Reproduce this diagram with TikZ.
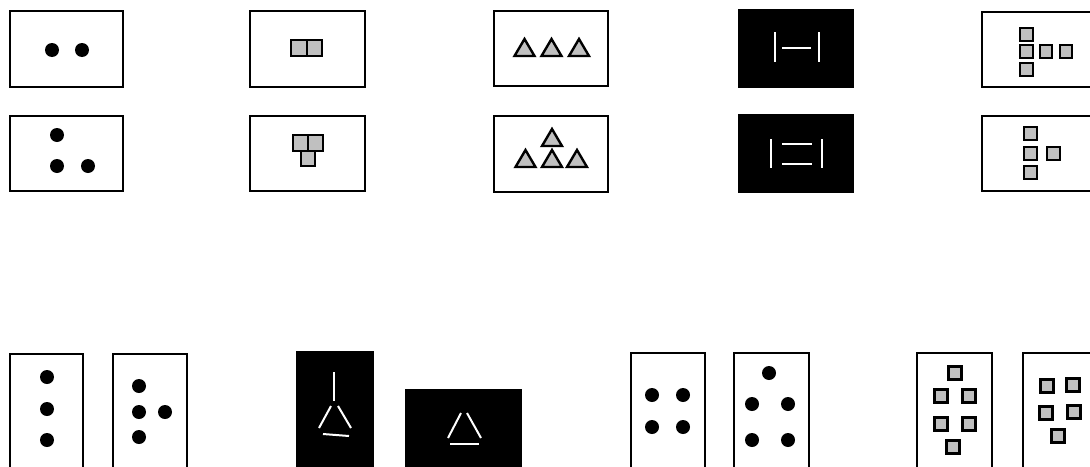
\documentclass[tikz,border=0pt]{standalone}
\usepackage{tikz}

\definecolor{cellgray}{RGB}{192,192,192}

\begin{document}
\begin{tikzpicture}[
      x=1pt, y=-1pt,
      panel/.style={draw=black, line width=2.5pt, fill=white},
      darkpanel/.style={fill=black},
      dot/.style={fill=black},
      cell/.style={draw=black, line width=2.4pt, fill=cellgray},
      tri/.style={draw=black, line width=2.4pt, fill=cellgray, line join=miter},
      stroke/.style={draw=white, line width=2pt}
    ]
    \clip (0,0) rectangle (1090,466);
    \fill[white] (0,0) rectangle (1090,466);

    % Top row: dots
    \draw[panel] (10,11) rectangle (123,87);
    \fill[dot] (52,50) circle[radius=7pt];
    \fill[dot] (82,50) circle[radius=7pt];
    \draw[panel] (10,116) rectangle (123,191);
    \fill[dot] (57,135) circle[radius=7pt];
    \fill[dot] (57,166) circle[radius=7pt];
    \fill[dot] (88,166) circle[radius=7pt];

    % Top row: joined squares
    \draw[panel] (250,11) rectangle (365,87);
    \draw[cell] (291,40) rectangle (307,56);
    \draw[cell] (307,40) rectangle (322,56);
    \draw[panel] (250,116) rectangle (365,191);
    \draw[cell] (301,151) rectangle (315,166);
    \draw[cell] (293,135) rectangle (308,151);
    \draw[cell] (308,135) rectangle (323,151);

    % Top row: triangles
    \draw[panel] (494,11) rectangle (608,86);
    \draw[tri] (514.5,56) -- (534.5,56) -- (524.5,39) -- cycle;
    \draw[tri] (541.5,56) -- (561.5,56) -- (551.5,39) -- cycle;
    \draw[tri] (569,56) -- (589,56) -- (579,39) -- cycle;
    \draw[panel] (494,116) rectangle (608,192);
    \draw[tri] (542,146) -- (562,146) -- (552,129) -- cycle;
    \draw[tri] (515.5,167) -- (535.5,167) -- (525.5,150) -- cycle;
    \draw[tri] (542,167) -- (562,167) -- (552,150) -- cycle;
    \draw[tri] (567,167) -- (587,167) -- (577,150) -- cycle;

    % Top row: sticks on black
    \fill[darkpanel] (738,9) rectangle (854,88);
    \draw[stroke] (775,32) -- (775,62);
    \draw[stroke] (782,48) -- (811,48);
    \draw[stroke] (819,32) -- (819,62);
    \fill[darkpanel] (738,114) rectangle (854,193);
    \draw[stroke] (771,139) -- (771,168);
    \draw[stroke] (782,144) -- (812,144);
    \draw[stroke] (782,164) -- (812,164);
    \draw[stroke] (822,139) -- (822,168);

    % Top row: separate squares
    \draw[panel] (982,12) rectangle (1100,87);
    \draw[cell] (1020,28) rectangle ++(13,13);
    \draw[cell] (1020,45) rectangle ++(13,13);
    \draw[cell] (1020,63) rectangle ++(13,13);
    \draw[cell] (1040,45) rectangle ++(12,13);
    \draw[cell] (1060,45) rectangle ++(12,13);
    \draw[panel] (982,116) rectangle (1100,191);
    \draw[cell] (1024,127) rectangle ++(13,13);
    \draw[cell] (1024,147) rectangle ++(13,13);
    \draw[cell] (1024,166) rectangle ++(13,13);
    \draw[cell] (1047,147) rectangle ++(13,13);

    % Bottom row: dots
    \draw[panel] (10,354) rectangle (83,480);
    \fill[dot] (47,377) circle[radius=7pt];
    \fill[dot] (47,409) circle[radius=7pt];
    \fill[dot] (47,440) circle[radius=7pt];
    \draw[panel] (113,354) rectangle (187,480);
    \fill[dot] (139,386) circle[radius=7pt];
    \fill[dot] (139,412) circle[radius=7pt];
    \fill[dot] (165,412) circle[radius=7pt];
    \fill[dot] (139,437) circle[radius=7pt];

    % Bottom row: sticks on black
    \fill[darkpanel] (296,351) rectangle (374,480);
    \draw[stroke] (334,372) -- (334,401);
    \draw[stroke] (331,406) -- (319,428);
    \draw[stroke] (338,406) -- (351,428);
    \draw[stroke] (323,434) -- (349,436);
    \fill[darkpanel] (405,389) rectangle (522,480);
    \draw[stroke] (461,413) -- (448,438);
    \draw[stroke] (467,413) -- (481,438);
    \draw[stroke] (450,444) -- (479,444);

    % Bottom row: more dots
    \draw[panel] (631,353) rectangle (705,480);
    \fill[dot] (652,395) circle[radius=7pt];
    \fill[dot] (683,395) circle[radius=7pt];
    \fill[dot] (652,427) circle[radius=7pt];
    \fill[dot] (683,427) circle[radius=7pt];
    \draw[panel] (734,353) rectangle (809,480);
    \fill[dot] (769,373) circle[radius=7pt];
    \fill[dot] (752,404) circle[radius=7pt];
    \fill[dot] (788,404) circle[radius=7pt];
    \fill[dot] (752,440) circle[radius=7pt];
    \fill[dot] (788,440) circle[radius=7pt];

    % Bottom row: squares
    \draw[panel] (917,353) rectangle (992,480);
    \draw[cell] (948.5,366.5) rectangle ++(13,13);
    \draw[cell] (934.5,389.5) rectangle ++(13,13);
    \draw[cell] (962.5,389.5) rectangle ++(13,13);
    \draw[cell] (934.5,417.5) rectangle ++(13,13);
    \draw[cell] (962.5,417.5) rectangle ++(13,13);
    \draw[cell] (946.5,440.5) rectangle ++(13,13);
    \draw[panel] (1023,353) rectangle (1100,480);
    \draw[cell] (1040.5,379.5) rectangle ++(13,13);
    \draw[cell] (1066.5,378.5) rectangle ++(13,13);
    \draw[cell] (1039.5,406.5) rectangle ++(13,13);
    \draw[cell] (1067.5,405.5) rectangle ++(13,13);
    \draw[cell] (1051.5,429.5) rectangle ++(13,13);
  \end{tikzpicture}
\end{document}
